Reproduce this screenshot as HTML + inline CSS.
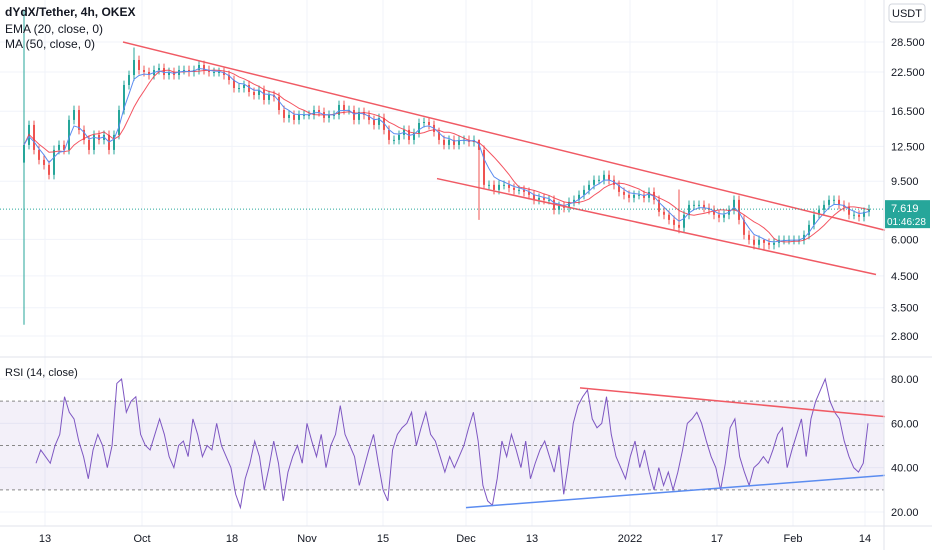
<!DOCTYPE html>
<html><head><meta charset="utf-8"><style>
html,body{margin:0;padding:0;background:#fff;}
svg{display:block;font-family:"Liberation Sans",sans-serif;}
</style></head><body>
<svg id="chart" width="932" height="550" viewBox="0 0 932 550" xmlns="http://www.w3.org/2000/svg">
<g id="grid"></g>
<g id="main"></g>
<g id="rsi"></g>
<g id="axes"></g>
<text x="5" y="16" font-size="12" font-weight="bold" fill="#131722">dYdX/Tether, 4h, OKEX</text>
<text x="5" y="33" font-size="12" fill="#131722">EMA (20, close, 0)</text>
<text x="5" y="48" font-size="12" fill="#131722">MA (50, close, 0)</text>
<text x="5" y="376" font-size="11" fill="#131722">RSI (14, close)</text>
<rect x="889" y="4" width="36" height="18" rx="3" fill="#fff" stroke="#d1d4dc"/>
<text x="907" y="17" font-size="11" text-anchor="middle" fill="#131722">USDT</text>
</svg>
<script>
const closes=[12.65,14.81,12.16,11.24,10.80,9.99,12.16,12.65,12.16,15.41,16.66,14.24,13.16,12.16,13.69,13.16,13.69,12.16,13.69,16.66,20.30,21.96,24.73,22.85,22.49,21.96,22.85,23.21,21.96,22.49,21.96,22.85,22.85,22.49,22.85,23.77,22.85,22.49,22.49,22.49,21.96,21.12,19.82,19.82,20.30,19.21,18.76,19.52,18.04,18.76,18.47,16.66,15.65,16.03,15.41,16.03,16.03,16.03,16.66,16.40,15.65,16.03,16.03,17.34,16.66,16.66,15.41,16.40,16.03,15.41,14.81,15.65,14.24,13.16,13.16,13.69,14.24,13.16,13.90,15.04,15.16,14.81,14.01,13.16,12.65,13.16,12.65,13.16,13.16,12.95,13.16,12.16,9.23,9.23,8.87,9.23,9.23,9.01,8.87,8.87,8.73,8.53,8.20,8.33,8.20,8.20,7.58,7.82,7.70,8.07,8.20,8.53,8.87,9.23,9.60,9.60,9.99,9.60,9.23,8.73,8.53,8.33,8.53,8.53,8.33,8.73,8.20,7.46,7.29,7.00,6.73,6.58,7.29,7.88,7.88,7.88,7.70,7.58,7.29,7.12,7.29,7.58,8.20,7.00,6.22,5.98,5.75,5.98,5.84,5.75,5.84,5.98,5.98,5.98,5.98,5.98,6.22,6.73,7.29,7.58,7.88,8.20,8.20,7.88,7.76,7.29,7.29,7.17,7.46,7.619];
const firstOpen=11.0;
const wickIdx=[0,22,91,131,148];
const wickLow=[3.06,21.0,7.0,6.3,5.5];
const wickHigh=[36.7,27.3,13.2,8.9,6.0];
const rsiValues=[42,48,45,42,50,55,72,65,62,52,45,35,48,55,50,40,50,78,80,65,70,72,55,50,48,55,62,55,45,40,50,52,45,62,55,45,50,48,60,50,45,40,28,22,35,42,52,45,30,40,52,42,25,38,45,50,42,60,52,45,55,40,50,55,68,55,50,45,32,40,48,55,42,30,25,48,55,58,60,65,50,58,65,55,52,45,38,45,40,45,50,58,65,52,32,25,23,35,52,45,55,48,40,52,35,42,48,52,45,38,50,28,42,60,68,72,75,62,58,60,72,55,45,40,35,45,52,40,48,38,30,40,32,38,30,38,48,60,62,65,60,52,45,40,30,42,58,62,45,38,32,40,42,45,42,48,55,58,40,48,55,62,45,62,70,75,80,70,65,62,52,45,40,38,42,60];
const priceTicks=[28.5,22.5,16.5,12.5,9.5,6,4.5,3.5,2.8];
const rsiTicks=[80,60,40,20];
const rsiBands=[70,50,30];
const timeLabels=["13","Oct","18","Nov","15","Dec","13","2022","17","Feb","14"];
const timeIdx=[4.2,23.6,41.6,56.6,71.8,88.4,101.6,121.2,138.6,153.8,168.2];
const trendUpper=[[19.8,28.5],[172.2,6.45]];
const trendLower=[[82.6,9.7],[170.4,4.55]];
const rsiTrendRed=[[111.2,76],[172.2,63]];
const rsiTrendBlueLine=[[88.4,22],[172.2,36.5]];
</script>
<script>
const NS="http://www.w3.org/2000/svg";
function mk(tag,attrs,parent){const e=document.createElementNS(NS,tag);for(const k in attrs)e.setAttribute(k,attrs[k]);parent.appendChild(e);return e;}
const X=i=>24+i*5;
const Y=p=>42+(Math.log(28.5)-Math.log(p))*126.7;
const RX=i=>36+i*(832/(rsiValues.length-1));
const RY=v=>379+(80-v)*(133/60);
const grid=document.getElementById('grid'),main=document.getElementById('main'),rsi=document.getElementById('rsi'),axes=document.getElementById('axes');
timeIdx.forEach((t,k)=>{const g=mk('line',{x1:X(t),x2:X(t),y1:0,y2:526,stroke:'#f0f3fa'},grid);

});
priceTicks.forEach(p=>{const g=mk('line',{x1:0,x2:884,y1:Y(p),y2:Y(p),stroke:'#f0f3fa'},grid);

});
rsiTicks.forEach(v=>{const g=mk('line',{x1:0,x2:884,y1:RY(v),y2:RY(v),stroke:'#f0f3fa'},grid);

});
const ema=[],ma=[];const kE=2/(4+1);
closes.forEach((c,i)=>{ema.push(i?c*kE+ema[i-1]*(1-kE):c);const s=closes.slice(Math.max(0,i-7),i+1);ma.push(s.reduce((a,b)=>a+b,0)/s.length);});
closes.forEach((c,i)=>{const o=i?closes[i-1]:firstOpen;let hi=Math.max(o,c)*1.035,lo=Math.min(o,c)*0.965;const w=wickIdx.indexOf(i);if(w>=0){hi=wickHigh[w];lo=wickLow[w];}
const col=c>=o?'#26a69a':'#ef5350';
const wk=mk('line',{x1:X(i),x2:X(i),y1:Y(hi),y2:Y(lo),stroke:col,'stroke-width':1},main);


const b=mk('rect',{x:X(i)-1,y:Math.min(Y(o),Y(c)),width:2,height:Math.max(1,Math.abs(Y(o)-Y(c))),fill:col},main);

});
const ml=mk('polyline',{points:ma.map((v,i)=>X(i)+','+Y(v)).join(' '),fill:'none',stroke:'#f23645','stroke-width':1,'stroke-opacity':0.85},main);


const el=mk('polyline',{points:ema.map((v,i)=>X(i)+','+Y(v)).join(' '),fill:'none',stroke:'#5b8cf0','stroke-width':1},main);


[[trendUpper,'upper-trendline'],[trendLower,'lower-trendline']].forEach(([t,n])=>{const l=mk('line',{x1:X(t[0][0]),y1:Y(t[0][1]),x2:X(t[1][0]),y2:Y(t[1][1]),stroke:'#f05a64','stroke-width':1.5},main);

});
const last=closes[closes.length-1];
const cp=mk('line',{x1:0,x2:884,y1:Y(last),y2:Y(last),stroke:'#26a69a','stroke-dasharray':'1 2'},main);


const band=mk('rect',{x:0,y:RY(70),width:884,height:RY(30)-RY(70),fill:'#7e57c2','fill-opacity':0.09},rsi);


rsiBands.forEach(v=>{const l=mk('line',{x1:0,x2:884,y1:RY(v),y2:RY(v),stroke:'#888','stroke-dasharray':'3 3'},rsi);

});
const rl=mk('polyline',{points:rsiValues.map((v,i)=>RX(i)+','+RY(v)).join(' '),fill:'none',stroke:'#7e57c2','stroke-width':1},rsi);


[[rsiTrendRed,'#f05a64','rsi-resistance-line'],[rsiTrendBlueLine,'#5b8cf0','rsi-support-line']].forEach(([t,c,n])=>{const l=mk('line',{x1:X(t[0][0]),y1:RY(t[0][1]),x2:X(t[1][0]),y2:RY(t[1][1]),stroke:c,'stroke-width':1.5},rsi);

});
[[884,0,884,550],[0,357,932,357],[0,526,932,526]].forEach(a=>{const l=mk('line',{x1:a[0],y1:a[1],x2:a[2],y2:a[3],stroke:'#e0e3eb'},axes);

});
priceTicks.forEach(p=>{const t=mk('text',{x:891,y:Y(p)+4,'font-size':11,fill:'#131722'},axes);t.textContent=p.toFixed(3);

});
rsiTicks.forEach(v=>{const t=mk('text',{x:891,y:RY(v)+4,'font-size':11,fill:'#131722'},axes);t.textContent=v.toFixed(2);

});
timeLabels.forEach((s,k)=>{const t=mk('text',{x:X(timeIdx[k]),y:542,'font-size':11,fill:'#131722','text-anchor':'middle'},axes);t.textContent=s;

});
const box=mk('rect',{x:885,y:Y(last)-9,width:45,height:28,fill:'#26a69a'},axes);


const t1=mk('text',{x:891,y:Y(last)+3,'font-size':11,fill:'#fff'},axes);t1.textContent=last.toFixed(3);


const t2=mk('text',{x:887,y:Y(last)+16,'font-size':10,fill:'#fff'},axes);t2.textContent='01:46:28';


</script>
</body></html>
